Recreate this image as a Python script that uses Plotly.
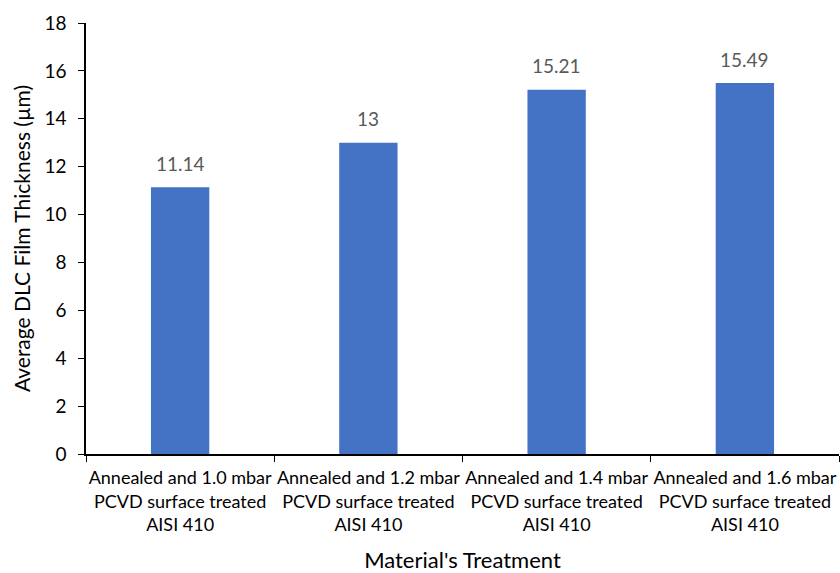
import plotly.graph_objects as go

categories = [
    "Annealed and 1.0 mbar<br>PCVD surface treated<br>AISI 410",
    "Annealed and 1.2 mbar<br>PCVD surface treated<br>AISI 410",
    "Annealed and 1.4 mbar<br>PCVD surface treated<br>AISI 410",
    "Annealed and 1.6 mbar<br>PCVD surface treated<br>AISI 410",
]
thickness = [11.14, 13, 15.21, 15.49]
labels = ["11.14", "13", "15.21", "15.49"]

FONT = "Lato, Open Sans, sans-serif"

fig = go.Figure(
    go.Bar(
        x=categories,
        y=thickness,
        marker=dict(color="#4472C4", line=dict(width=0)),
        width=0.31,
        hoverinfo="x+y",
    )
)

# value labels floating above each bar
for cat, val, lab in zip(categories, thickness, labels):
    fig.add_annotation(
        x=cat, y=val, text=lab, showarrow=False,
        yanchor="middle", yshift=24,
        font=dict(family=FONT, size=19, color="#595959"),
    )

fig.update_layout(
    width=840,
    height=573,
    margin=dict(l=86, r=1, t=23, b=119),
    paper_bgcolor="white",
    plot_bgcolor="white",
    showlegend=False,
    font=dict(family=FONT, color="#000000"),
)

fig.update_xaxes(
    type="category",
    showline=True,
    linecolor="black",
    linewidth=1.5,
    ticks="outside",
    tickson="boundaries",
    ticklen=6,
    tickcolor="black",
    tickangle=0,
    ticklabelstandoff=7,
    tickfont=dict(family=FONT, size=18, color="#000000"),
    title=dict(text="Material's Treatment", font=dict(family=FONT, size=22, color="#000000"), standoff=22),
    showgrid=False,
    automargin=False,
)

fig.update_yaxes(
    range=[0, 18],
    dtick=2,
    showline=True,
    linecolor="black",
    linewidth=1.5,
    ticks="outside",
    ticklen=6,
    tickcolor="black",
    ticklabelstandoff=8,
    tickfont=dict(family=FONT, size=19, color="#000000"),
    title=dict(text="Average DLC Film Thickness (µm)", font=dict(family=FONT, size=21, color="#000000"), standoff=8),
    showgrid=False,
    zeroline=False,
    automargin=False,
)

fig.write_html("out.html")
